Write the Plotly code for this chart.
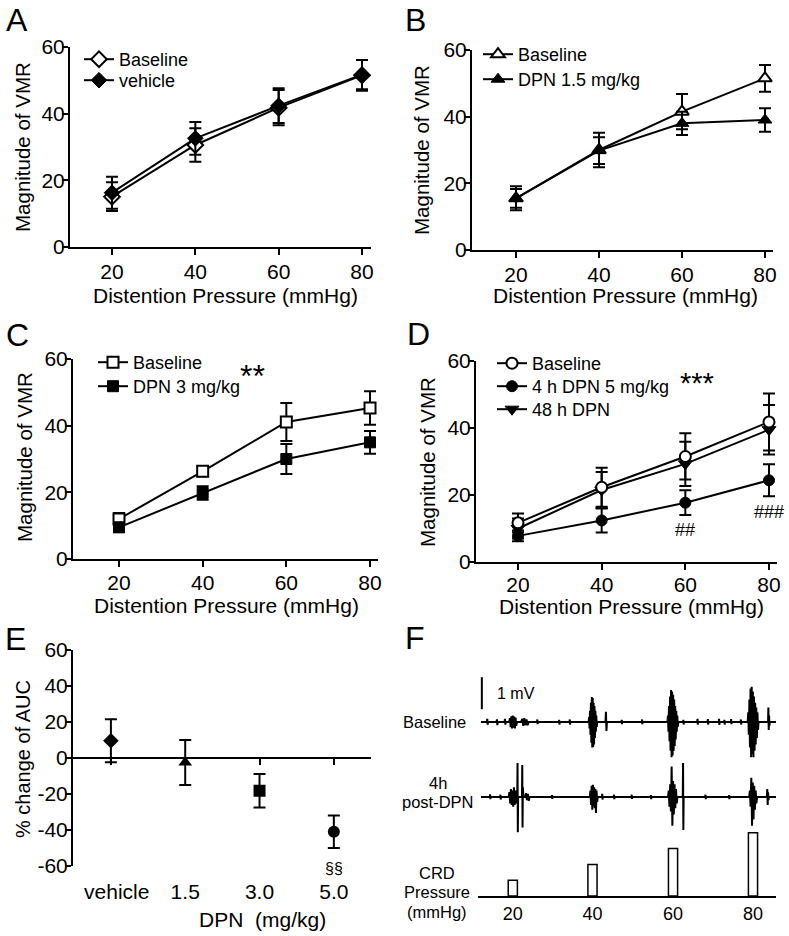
import plotly.graph_objects as go

W, H = 789, 936
FONT = "Liberation Sans, Arial, Helvetica, sans-serif"

# ---------------- data ----------------
pressure = [20, 40, 60, 80]

a_baseline = [15.1, 30.6, 41.8, 51.5]
a_baseline_sem = [4.3, 5.0, 5.3, 4.6]
a_vehicle = [16.3, 32.6, 42.4, 51.7]
a_vehicle_sem = [4.8, 4.9, 5.2, 4.4]

b_baseline = [15.5, 30.0, 41.5, 51.5]
b_baseline_sem = [3.6, 5.2, 5.3, 4.0]
b_dpn = [15.5, 29.8, 38.0, 39.0]
b_dpn_sem = [2.8, 4.0, 3.5, 3.5]

c_baseline = [12.0, 26.3, 41.1, 45.3]
c_baseline_sem = [1.8, 1.5, 5.7, 5.0]
c_dpn = [9.5, 19.8, 30.0, 35.0]
c_dpn_sem = [1.4, 2.0, 4.5, 3.4]

d_baseline = [11.7, 22.3, 31.5, 41.8]
d_baseline_sem = [2.8, 5.8, 6.9, 8.5]
d_dpn4h = [7.8, 12.4, 17.7, 24.4]
d_dpn4h_sem = [1.6, 3.6, 3.7, 4.8]
d_dpn48h = [10.0, 21.5, 29.3, 39.5]
d_dpn48h_sem = [3.0, 5.4, 6.6, 7.4]

e_groups = ["vehicle", "1.5", "3.0", "5.0"]
e_auc_change = [9.6, -2.5, -18.2, -41.0]
e_auc_sem = [11.9, 12.5, 9.3, 9.0]
e_symbols = ["diamond", "triangle-up", "square", "circle"]

f_stim_time = [10.8, 37.8, 65.1, 92.2]
f_stim_pressure = [20, 40, 60, 80]
f_stim_labels = ["20", "40", "60", "80"]
f_scale_bar_mv = 1.0

# EMG bursts: (start time, end time, spike amplitudes in mV)
f_baseline_bursts = [
    (2.0, 2.4, [0.10, -0.08]),
    (5.3, 5.7, [0.08, -0.10]),
    (8.0, 8.4, [0.10, -0.08]),
    (9.6, 12.2, [0.12, -0.16, 0.18, -0.20, 0.20, -0.18, 0.17, -0.20, 0.14, -0.12]),
    (13.6, 16.2, [0.10, -0.12, 0.12, -0.10, 0.08, -0.10]),
    (19.0, 19.3, [0.08, -0.07]),
    (26.4, 26.7, [0.07, -0.08]),
    (30.0, 30.3, [0.08, -0.08]),
    (36.5, 39.4, [0.15, -0.20, 0.35, -0.40, 0.60, -0.65, 0.78, -0.80, 0.75,
                  -0.78, 0.60, -0.70, 0.50, -0.50, 0.35, -0.30, 0.20, -0.15]),
    (42.2, 42.7, [0.32, -0.28]),
    (47.6, 47.9, [0.07, -0.07]),
    (54.5, 54.8, [0.08, -0.07]),
    (63.2, 66.9, [0.20, -0.30, 0.50, -0.60, 0.80, -0.90, 1.00, -1.10, 0.95, -1.05,
                  0.85, -0.90, 0.70, -0.75, 0.50, -0.55, 0.35, -0.30, 0.20, -0.15]),
    (68.5, 68.8, [0.07, -0.08]),
    (73.3, 73.6, [0.10, -0.08]),
    (76.8, 77.1, [0.09, -0.08]),
    (80.6, 80.9, [0.10, -0.09]),
    (82.4, 82.7, [0.07, -0.08]),
    (84.7, 85.0, [0.09, -0.07]),
    (88.0, 88.3, [0.08, -0.08]),
    (90.4, 94.1, [0.30, -0.40, 0.70, -0.80, 1.05, -1.10, 1.10, -1.00, 0.95, -1.10,
                  0.80, -0.90, 0.60, -0.70, 0.45, -0.50, 0.30, -0.25]),
    (97.3, 97.9, [0.45, -0.25, 0.20, -0.12]),
]
f_post_bursts = [
    (3.0, 3.3, [0.08, -0.07]),
    (6.5, 6.8, [0.07, -0.08]),
    (9.4, 12.2, [0.15, -0.20, 0.25, -0.25, 0.20, -0.30, 0.30, -0.25, 0.20, -0.20]),
    (12.3, 12.6, [1.06, -1.10]),
    (13.9, 14.4, [1.00, -0.95, 0.30, -0.20]),
    (15.0, 16.5, [0.12, -0.10, 0.10, -0.12]),
    (24.0, 24.3, [0.06, -0.06]),
    (36.9, 39.6, [0.20, -0.25, 0.35, -0.40, 0.38, -0.30, 0.30, -0.35, 0.25, -0.50, 0.20, -0.15]),
    (41.0, 41.3, [0.10, -0.08]),
    (45.0, 45.3, [0.07, -0.07]),
    (51.0, 51.3, [0.07, -0.06]),
    (57.5, 57.8, [0.06, -0.07]),
    (63.4, 66.6, [0.20, -0.30, 0.40, -0.45, 0.95, -0.90, 0.50, -0.55, 0.40, -0.35, 0.25, -0.20]),
    (68.4, 68.7, [1.06, -1.03]),
    (76.0, 76.3, [0.07, -0.07]),
    (84.0, 84.3, [0.06, -0.07]),
    (90.9, 93.6, [0.20, -0.30, 0.60, -0.90, 0.45, -0.70, 0.35, -0.40, 0.20, -0.20]),
    (96.9, 97.6, [0.25, -0.25, 0.15, -0.10]),
]


def emg_series(bursts, t_end=100.0):
    t, v = [0.0], [0.0]
    for start, end, amps in bursts:
        n = len(amps)
        t.append(start); v.append(0.0)
        for i, a in enumerate(amps):
            t.append(start + (end - start) * (i + 1) / (n + 1))
            v.append(a)
        t.append(end); v.append(0.0)
    t.append(t_end); v.append(0.0)
    return t, v


# ---------------- geometry helpers ----------------
def X(px):
    return px / W


def Y(px):
    return 1 - px / H


def xrange_from(left, right, p20, p80):
    s = (p80 - p20) / 60.0
    return [20 - (p20 - left) / s, 80 + (right - p80) / s]


fig = go.Figure()
legend_rows = {}   # legend id -> (left px, row centre px)


def add_series(key, x, y, err, symbol, filled, name, legend, size=11):
    fig.add_trace(go.Scatter(
        x=x, y=y, xaxis="x" + key, yaxis="y" + key, name=name,
        legend=legend,
        mode="lines+markers",
        line=dict(color="black", width=2),
        marker=dict(symbol=symbol, size=size, opacity=1,
                    color="black" if filled else "white",
                    line=dict(color="black", width=1 if filled else 2)),
        error_y=dict(type="data", array=err, visible=True, color="black",
                     thickness=2, width=6),
        cliponaxis=False, hoverinfo="skip"))


# Panel A
add_series("", pressure, a_baseline, a_baseline_sem, "diamond", False, "Baseline", "legend", 12)
add_series("", pressure, a_vehicle, a_vehicle_sem, "diamond", True, "vehicle", "legend2", 12)
legend_rows.update({"legend": (79, 60), "legend2": (79, 81)})
# Panel B
add_series("2", pressure, b_baseline, b_baseline_sem, "triangle-up", False, "Baseline", "legend3", 12)
add_series("2", pressure, b_dpn, b_dpn_sem, "triangle-up", True, "DPN 1.5 mg/kg", "legend4", 12)
legend_rows.update({"legend3": (478, 55), "legend4": (478, 80)})
# Panel C
add_series("3", pressure, c_baseline, c_baseline_sem, "square", False, "Baseline", "legend5", 11)
add_series("3", pressure, c_dpn, c_dpn_sem, "square", True, "DPN 3 mg/kg", "legend6", 11)
legend_rows.update({"legend5": (93, 363), "legend6": (93, 387)})
# Panel D (drawn back to front)
add_series("4", pressure, d_dpn48h, d_dpn48h_sem, "triangle-down", True, "48 h DPN", "legend9", 12)
add_series("4", pressure, d_dpn4h, d_dpn4h_sem, "circle", True, "4 h DPN 5 mg/kg", "legend8", 11)
add_series("4", pressure, d_baseline, d_baseline_sem, "circle", False, "Baseline", "legend7", 11)
legend_rows.update({"legend7": (492, 364), "legend8": (492, 387), "legend9": (492, 410)})

# Panel E
fig.add_trace(go.Scatter(
    x=e_groups, y=e_auc_change, xaxis="x5", yaxis="y5", mode="markers",
    marker=dict(symbol=e_symbols, size=12, opacity=1, color="black"),
    error_y=dict(type="data", array=e_auc_sem, visible=True, color="black",
                 thickness=2, width=6),
    showlegend=False, cliponaxis=False, hoverinfo="skip"))
fig.add_trace(go.Scatter(
    x=e_groups, y=e_auc_change, xaxis="x6", yaxis="y5", mode="markers",
    marker=dict(opacity=0, size=1), showlegend=False, hoverinfo="skip"))

# Panel F
tb, vb = emg_series(f_baseline_bursts)
tp, vp = emg_series(f_post_bursts)
fig.add_trace(go.Scatter(x=tb, y=vb, xaxis="x7", yaxis="y6", mode="lines",
                         line=dict(color="black", width=2), showlegend=False,
                         hoverinfo="skip", cliponaxis=False))
fig.add_trace(go.Scatter(x=tp, y=vp, xaxis="x7", yaxis="y7", mode="lines",
                         line=dict(color="black", width=2), showlegend=False,
                         hoverinfo="skip", cliponaxis=False))
fig.add_trace(go.Scatter(x=[0.3, 0.3], y=[0.4, 0.4 + f_scale_bar_mv], xaxis="x7", yaxis="y6",
                         mode="lines", line=dict(color="black", width=2),
                         showlegend=False, hoverinfo="skip", cliponaxis=False))
fig.add_trace(go.Bar(x=f_stim_time, y=f_stim_pressure, xaxis="x7", yaxis="y8", width=3.1,
                     marker=dict(color="white", line=dict(color="black", width=1.5)),
                     showlegend=False, hoverinfo="skip"))

# ---------------- layout ----------------
axis_style = dict(showline=True, linecolor="black", linewidth=2,
                  ticks="outside", ticklen=6, tickwidth=2, tickcolor="black",
                  showgrid=False, zeroline=False, automargin=False,
                  tickfont=dict(family=FONT, size=21, color="black"),
                  fixedrange=True)

geo = {
    "": dict(left=70, right=371, p20=112, p80=362, bottom=247, top=47, xstand=-1),
    "2": dict(left=472, right=773, p20=516, p80=765, bottom=250, top=50, xstand=-1),
    "3": dict(left=73, right=378, p20=119, p80=370, bottom=559, top=359, xstand=-2),
    "4": dict(left=476, right=777, p20=518, p80=769, bottom=562, top=361, xstand=-3),
}
layout = {}
for key, g in geo.items():
    layout["xaxis" + key] = dict(axis_style, domain=[X(g["left"]), X(g["right"])],
                                 range=xrange_from(g["left"], g["right"], g["p20"], g["p80"]),
                                 tickvals=pressure, anchor="y" + key,
                                 ticklabelstandoff=g["xstand"])
    layout["yaxis" + key] = dict(axis_style, domain=[Y(g["bottom"]), Y(g["top"])],
                                 range=[0, 60], tickvals=[0, 20, 40, 60], anchor="x" + key,
                                 ticklabelstandoff=-7)

# Panel E axes
e_ticks = [-60, -40, -20, 0, 20, 40, 60]
e_bottom, e_top = 866, 650
e_zero_px = e_bottom - (0 - (-60)) / 120 * (e_bottom - e_top)
layout["xaxis5"] = dict(axis_style, domain=[X(73), X(371)], type="category",
                        categoryarray=e_groups, range=[-0.51, 3.5], anchor="y5",
                        tickvals=e_groups,
                        ticktext=["\u00a0\u00a0" + e_groups[0]] + e_groups[1:],
                        showline=False, tickcolor="rgba(0,0,0,0)", ticklen=7)
layout["xaxis6"] = dict(axis_style, type="category", categoryarray=e_groups,
                        range=[-0.51, 3.5], overlaying="x5", anchor="free",
                        position=Y(e_zero_px), showticklabels=False, ticklen=6)
layout["yaxis5"] = dict(axis_style, domain=[Y(e_bottom), Y(e_top)], range=[-60, 60],
                        tickvals=e_ticks, ticktext=[str(v) for v in e_ticks], anchor="x5",
                        ticklabelstandoff=-7)

# Panel F axes
layout["xaxis7"] = dict(axis_style, domain=[X(478), X(776)], range=[-1.0, 100.0],
                        anchor="y8", ticks="", tickvals=f_stim_time, ticktext=f_stim_labels,
                        tickfont=dict(family=FONT, size=18, color="black"))
layout["yaxis6"] = dict(domain=[Y(762), Y(672)], range=[-1.25, 1.5625], visible=False,
                        anchor="x7", fixedrange=True)
layout["yaxis7"] = dict(domain=[Y(840), Y(760)], range=[-1.344, 1.156], visible=False,
                        anchor="x7", fixedrange=True)
layout["yaxis8"] = dict(domain=[Y(896), Y(825)], range=[0, 89.9], visible=False,
                        anchor="x7", fixedrange=True)

legend_style = dict(xanchor="left", yanchor="top", bgcolor="rgba(0,0,0,0)",
                    borderwidth=0, itemwidth=30,
                    font=dict(family=FONT, size=18, color="black"))
for lid, (lx, lrow) in legend_rows.items():
    layout[lid] = dict(legend_style, x=X(lx), y=Y(lrow - 19))

annotations = []


def paper_text(text, px, py, size, xanchor="center", angle=0):
    annotations.append(dict(text=text, x=X(px), y=Y(py), xref="paper", yref="paper",
                            xanchor=xanchor, yanchor="middle", showarrow=False,
                            textangle=angle, font=dict(family=FONT, size=size, color="black")))


for letter, px, py in [("A", 17, 20), ("B", 415, 20), ("C", 17, 335),
                       ("D", 419, 334), ("E", 15, 639), ("F", 415, 638)]:
    paper_text(letter, px, py, 32)

for px, py in [(225, 295), (625, 295), (227, 605), (631, 606)]:
    paper_text("Distention Pressure (mmHg)", px, py, 21)
for px, py in [(22, 147), (421, 150), (24, 457), (427, 462)]:
    paper_text("Magnitude of VMR", px, py, 20.5, angle=-90)
paper_text("% change of AUC", 23, 759, 20, angle=-90)
paper_text("DPN\u00a0 (mg/kg)", 262, 919, 21)

paper_text("1 mV", 495, 693, 16, xanchor="left")
paper_text("Baseline", 434, 722, 16.5)
paper_text("4h", 438, 783, 16.5)
paper_text("post-DPN", 438, 802, 16.5)
paper_text("CRD", 437, 873, 16.5)
paper_text("Pressure", 437, 892, 16.5)
paper_text("(mmHg)", 437, 912, 16.5)


def data_text(text, xref, yref, x, y, size, yshift=0):
    annotations.append(dict(text=text, x=x, y=y, xref=xref, yref=yref, showarrow=False,
                            xanchor="center", yanchor="middle", yshift=yshift,
                            font=dict(family=FONT, size=size, color="black")))


data_text("**", "x3", "y3", 52, 55.0, 32)
data_text("***", "x4", "y4", 62.8, 53.5, 29)
data_text("##", "x4", "y4", 60, 9.5, 18)
data_text("###", "x4", "y4", 80, 15.0, 18)
data_text("§§", "x5", "y5", 3, -59.5, 16, yshift=-3)

fig.update_layout(
    template="none",
    width=W, height=H, margin=dict(l=0, r=0, t=0, b=0, autoexpand=False),
    paper_bgcolor="white", plot_bgcolor="white",
    font=dict(family=FONT, color="black"),
    showlegend=True, hovermode=False, barmode="overlay",
    annotations=annotations, **layout)

fig.write_html("out.html", config={"displayModeBar": False},
               post_script="document.body.style.margin='0';document.body.style.overflow='hidden';")
